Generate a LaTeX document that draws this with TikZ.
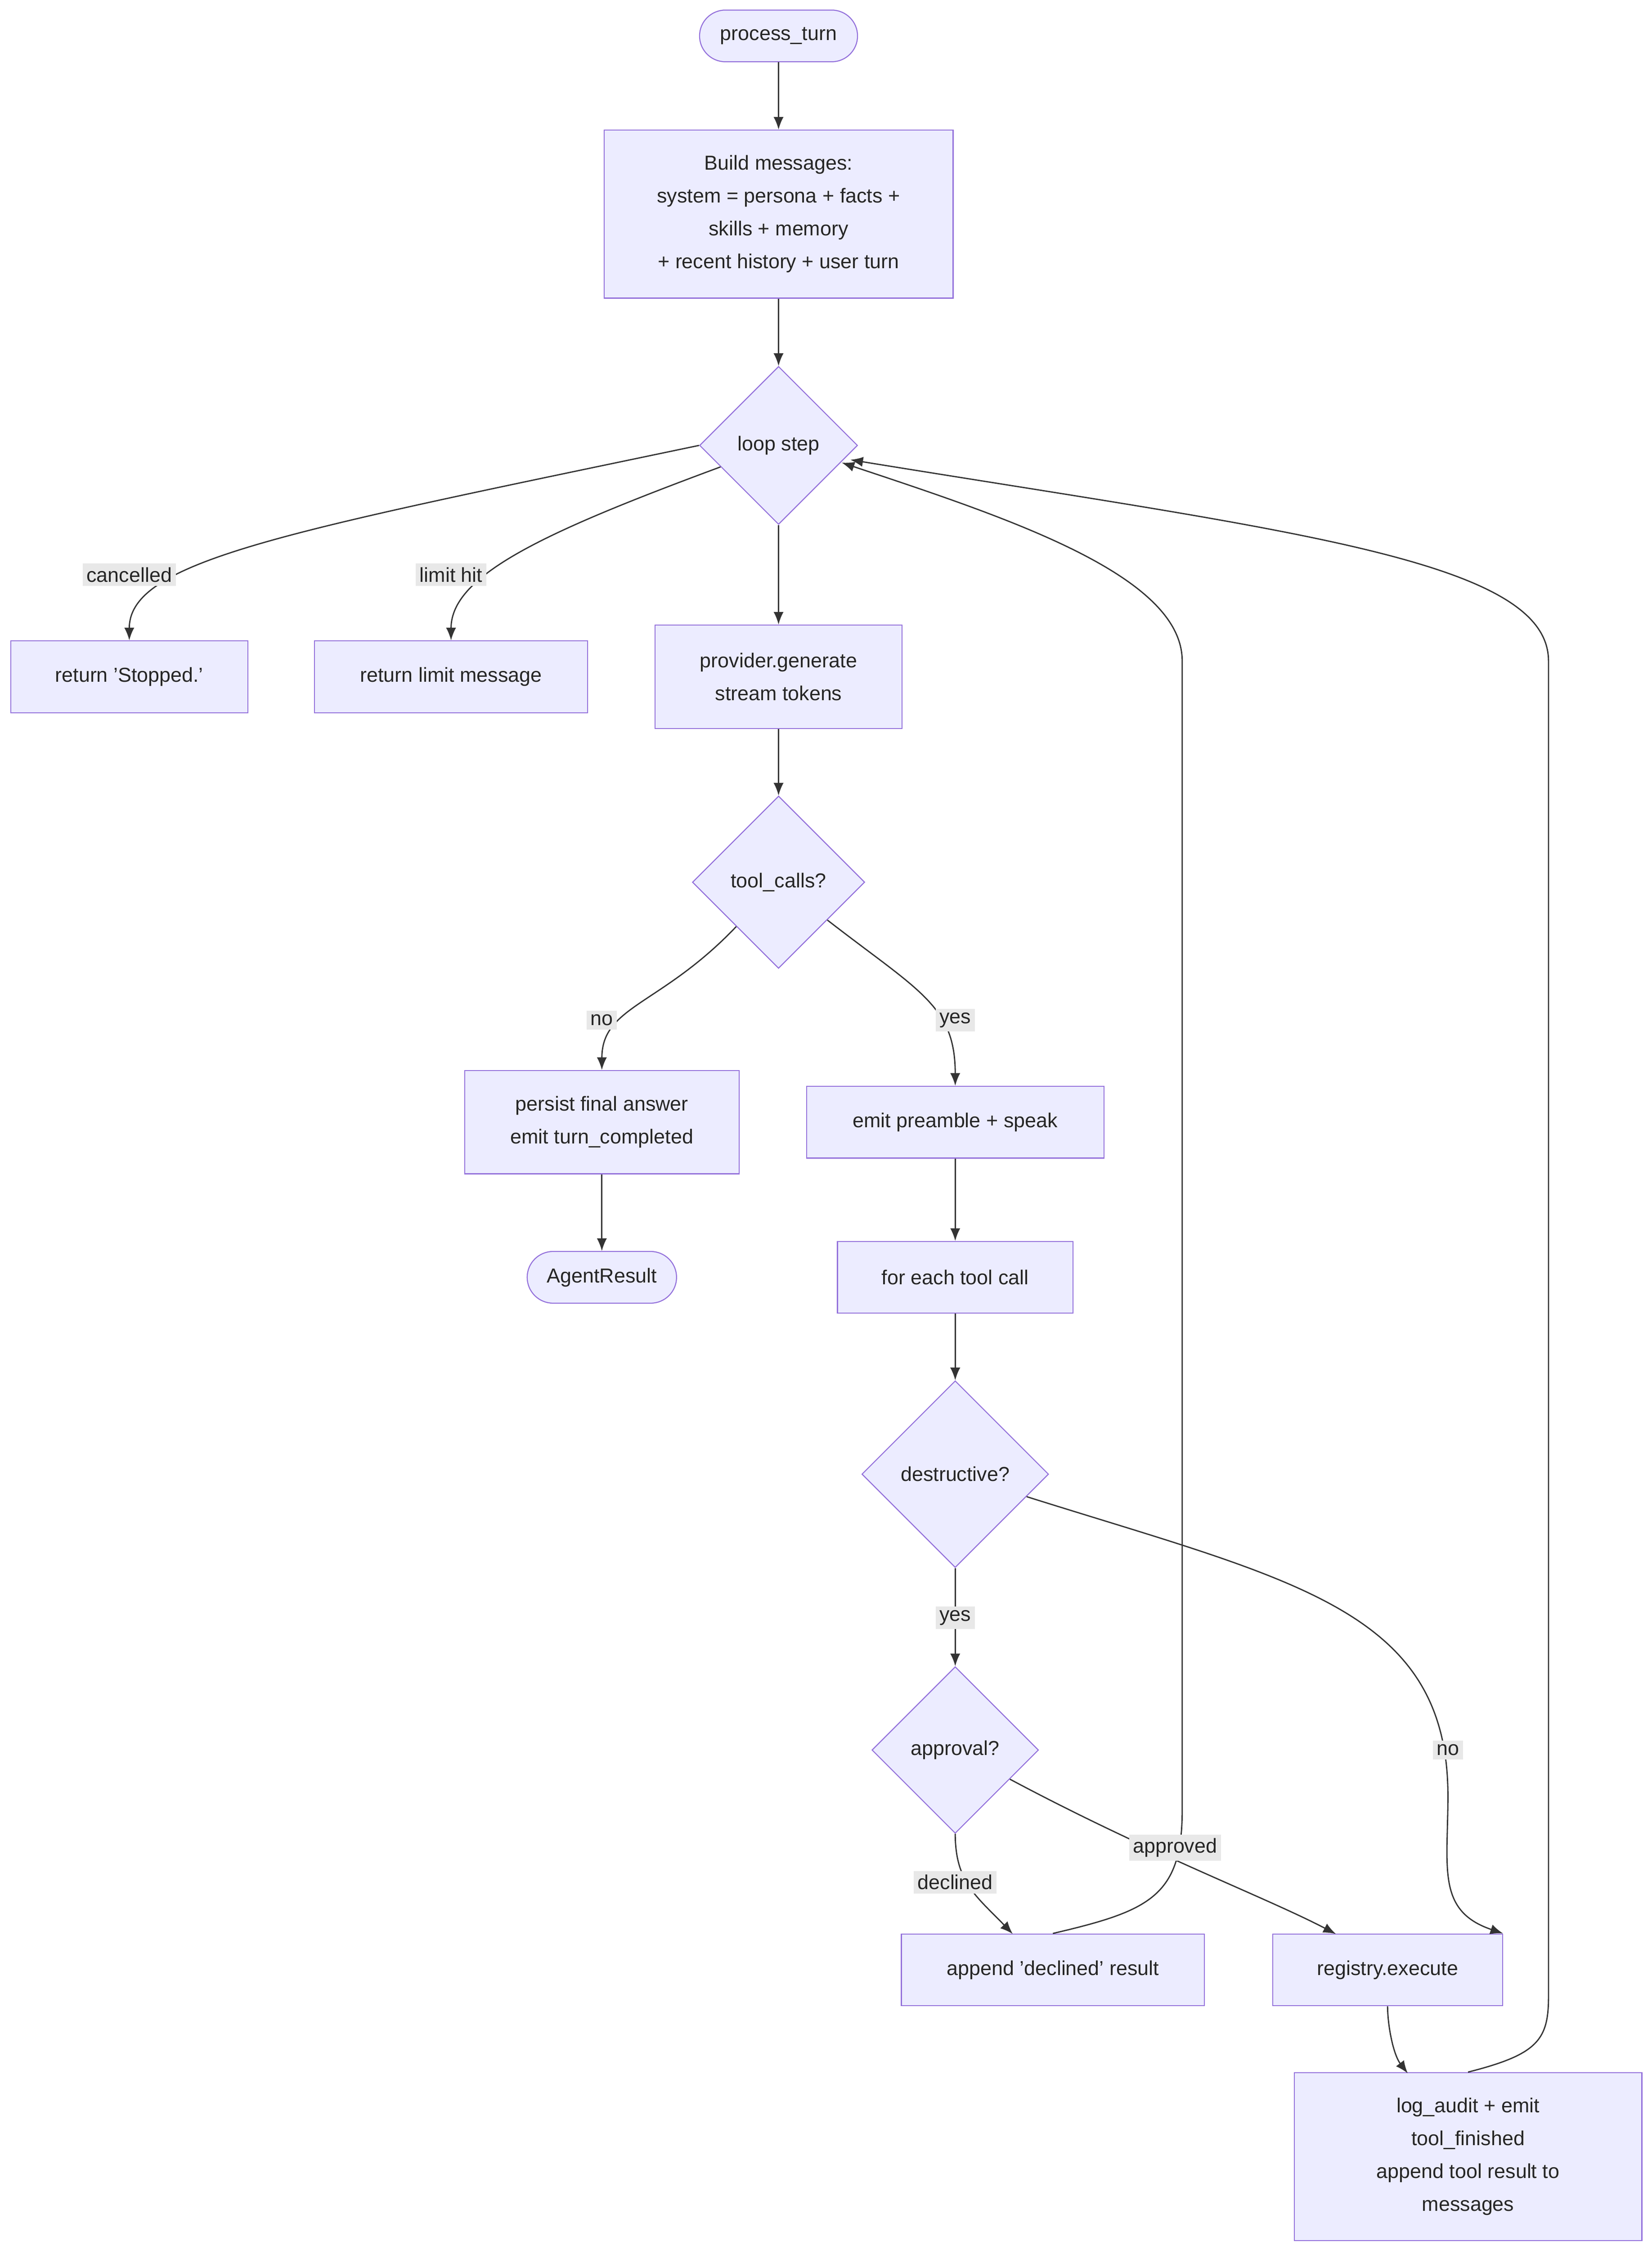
\documentclass[tikz,border=0pt]{standalone}
\usepackage{fontspec}
\setmainfont{Liberation Sans}
\usetikzlibrary{shapes.geometric,arrows.meta}
\definecolor{boxfill}{HTML}{ECECFF}
\definecolor{boxline}{HTML}{9370DB}
\definecolor{lblfill}{HTML}{E8E8E8}
\definecolor{edge}{HTML}{333333}
\tikzset{
  box/.style={draw=boxline, fill=boxfill, rectangle, align=center, font=\fontsize{8}{13}\selectfont, text=black!85},
  term/.style={box, rounded corners=0.36cm},
  choice/.style={draw=boxline, fill=boxfill, diamond, aspect=1, inner sep=0pt, font=\fontsize{8}{10}\selectfont, text=black!85},
  flow/.style={draw=edge, line width=0.5pt, -{Latex[length=5pt,width=4pt]}},
  lbl/.style={fill=lblfill, inner sep=1.5pt, font=\fontsize{8}{10}\selectfont, text=black!85}
}
\begin{document}
\begin{tikzpicture}[x=0.02cm, y=-0.02cm]
\useasboundingbox (0,0) rectangle (1150,1566);
% nodes
\node[term, minimum width=2.2cm, minimum height=0.72cm] (start) at (542,25) {process\_turn};
\node[box, minimum width=4.86cm, minimum height=2.34cm] (build) at (542,149) {Build messages:\\system = persona + facts +\\skills + memory\\+ recent history + user turn};
\node[choice, minimum size=2.2cm] (loop) at (542,310) {loop step};
\node[box, minimum width=3.3cm, minimum height=1cm] (stopped) at (90,471) {return 'Stopped.'};
\node[box, minimum width=3.8cm, minimum height=1cm] (limit) at (314,471) {return limit message};
\node[box, minimum width=3.44cm, minimum height=1.44cm] (provider) at (542,471) {provider.generate\\stream tokens};
\node[choice, minimum size=2.4cm] (calls) at (542,614) {tool\_calls?};
\node[box, minimum width=3.82cm, minimum height=1.44cm] (persist) at (419,781) {persist final answer\\emit turn\_completed};
\node[box, minimum width=4.14cm, minimum height=1cm] (preamble) at (665,781) {emit preamble + speak};
\node[term, minimum width=2.08cm, minimum height=0.72cm] (result) at (419,889) {AgentResult};
\node[box, minimum width=3.28cm, minimum height=1cm] (foreach) at (665,889) {for each tool call};
\node[choice, minimum size=2.6cm] (destr) at (665,1026) {destructive?};
\node[choice, minimum size=2.32cm] (approval) at (665,1218) {approval?};
\node[box, minimum width=4.22cm, minimum height=1cm] (declined) at (733,1371) {append 'declined' result};
\node[box, minimum width=3.2cm, minimum height=1cm] (registry) at (966,1371) {registry.execute};
\node[box, minimum width=4.84cm, minimum height=2.34cm] (audit) at (1022,1501) {log\_audit + emit\\tool\_finished\\append tool result to\\messages};
% connectors
\draw[flow] (start) -- (build);
\draw[flow] (build) -- (loop);
\draw[flow] (loop.west) .. controls (200,370) and (90,390) .. (stopped.north);
\draw[flow] (loop) .. controls (380,370) and (314,400) .. (limit.north);
\draw[flow] (loop) -- (provider);
\draw[flow] (provider) -- (calls);
\draw[flow] (calls) .. controls (460,700) and (419,700) .. (persist.north);
\draw[flow] (calls) .. controls (640,690) and (665,700) .. (preamble.north);
\draw[flow] (persist) -- (result);
\draw[flow] (preamble) -- (foreach);
\draw[flow] (foreach) -- (destr);
\draw[flow] (destr) -- (approval);
\draw[flow] (destr) .. controls (900,1100) and (1008,1120) .. (1008,1250) .. controls (1008,1300) and (1000,1330) .. (registry.north east);
\draw[flow] (approval.south) .. controls (665,1310) and (680,1320) .. (705,1346);
\draw[flow] (approval) .. controls (800,1290) and (880,1320) .. (930,1346);
\draw[flow] (registry.south) .. controls (966,1410) and (970,1430) .. (980,1443);
\draw[flow] (declined.north) .. controls (800,1330) and (823,1320) .. (823,1260) -- (823,460) .. controls (823,400) and (700,360) .. (586,322);
\draw[flow] (audit.north) .. controls (1070,1430) and (1078,1420) .. (1078,1390) -- (1078,460) .. controls (1078,390) and (900,370) .. (592,320);
% labels
\node[lbl] (lc) at (90,400) {cancelled};
\node[lbl] (ll) at (314,400) {limit hit};
\node[lbl] (ln) at (419,710) {no};
\node[lbl] (ly) at (665,710) {yes};
\node[lbl] (ly2) at (665,1126) {yes};
\node[lbl] (ln2) at (1008,1218) {no};
\node[lbl] (ld) at (665,1310) {declined};
\node[lbl] (la) at (818,1286) {approved};
\end{tikzpicture}
\end{document}
